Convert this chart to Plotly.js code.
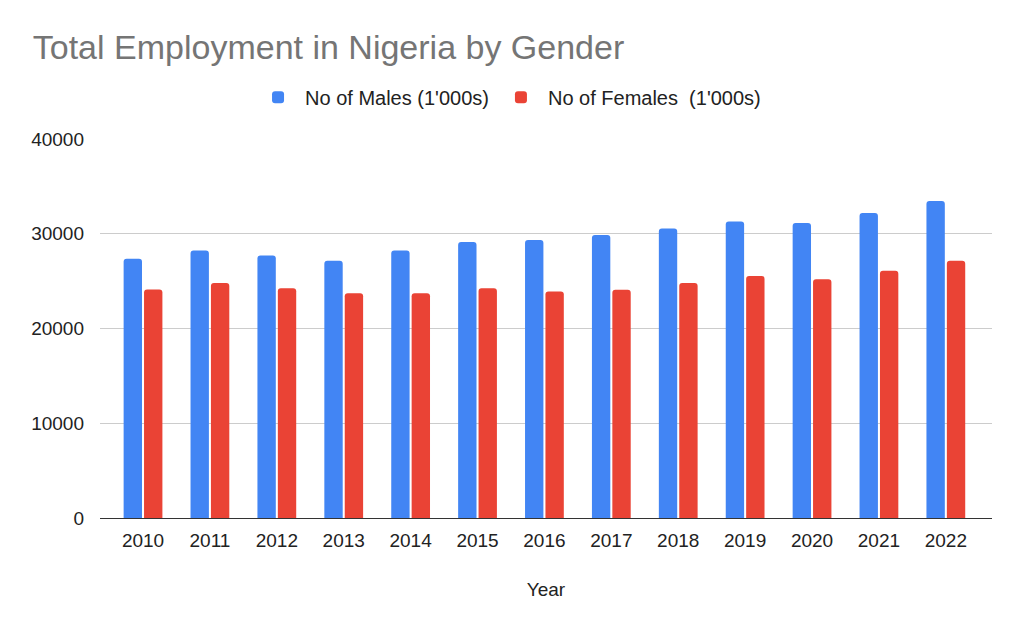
<!DOCTYPE html>
<html>
<head>
<meta charset="utf-8">
<script src="https://cdn.plot.ly/plotly-3.0.1.min.js"></script>
<style>html,body{margin:0;padding:0;background:#fff;}#chart{width:1024px;height:633px;}</style>
</head>
<body>
<div id="chart"></div>
<script>
const years = ['2010','2011','2012','2013','2014','2015','2016','2017','2018','2019','2020','2021','2022'];
const males = [27360, 28240, 27710, 27150, 28240, 29120, 29330, 29860, 30560, 31300, 31130, 32180, 33450];
const females = [24120, 24790, 24260, 23730, 23730, 24260, 23910, 24080, 24790, 25530, 25210, 26090, 27150];
const yTicks = [0, 10000, 20000, 30000, 40000];

const data = [
  {type:'bar', name:"No of Males (1'000s)", x:years, y:males, marker:{color:'#4285f4', cornerradius:3}},
  {type:'bar', name:"No of Females  (1'000s)", x:years, y:females, marker:{color:'#ea4335', cornerradius:3}}
];
const layout = {
  width:1024, height:633,
  margin:{l:100, r:32, t:139, b:115},
  paper_bgcolor:'#fff', plot_bgcolor:'#fff',
  font:{family:'Arial, "Liberation Sans", sans-serif', color:'#222', size:19},
  title:{text:'Total Employment in Nigeria by Gender', x:0.032, xanchor:'left', y:0.925, yanchor:'middle', font:{size:34, color:'#757575'}},
  barmode:'group', bargap:0.39, bargroupgap:0.1,
  showlegend:true,
  legend:{orientation:'h', x:0.458, xanchor:'center', y:1.11, yanchor:'middle', font:{size:20, color:'#222'}, itemwidth:44},
  xaxis:{type:'category', range:[-0.643, 12.69], tickangle:0, automargin:false, tickfont:{size:19, color:'#222'}, ticklabelstandoff:5, showline:true, linecolor:'#333', linewidth:1, ticks:'', title:{text:'Year', font:{size:19, color:'#222'}, standoff:32}},
  yaxis:{range:[0,40000], automargin:false, tickvals:yTicks, ticktext:yTicks.map(String), tickfont:{size:19, color:'#222'}, ticklabelstandoff:15, gridcolor:'#cccccc', zeroline:false, showline:false, ticks:'', ticklen:0}
};
Plotly.newPlot('chart', data, layout, {displayModeBar:false, staticPlot:true});
</script>
</body>
</html>
